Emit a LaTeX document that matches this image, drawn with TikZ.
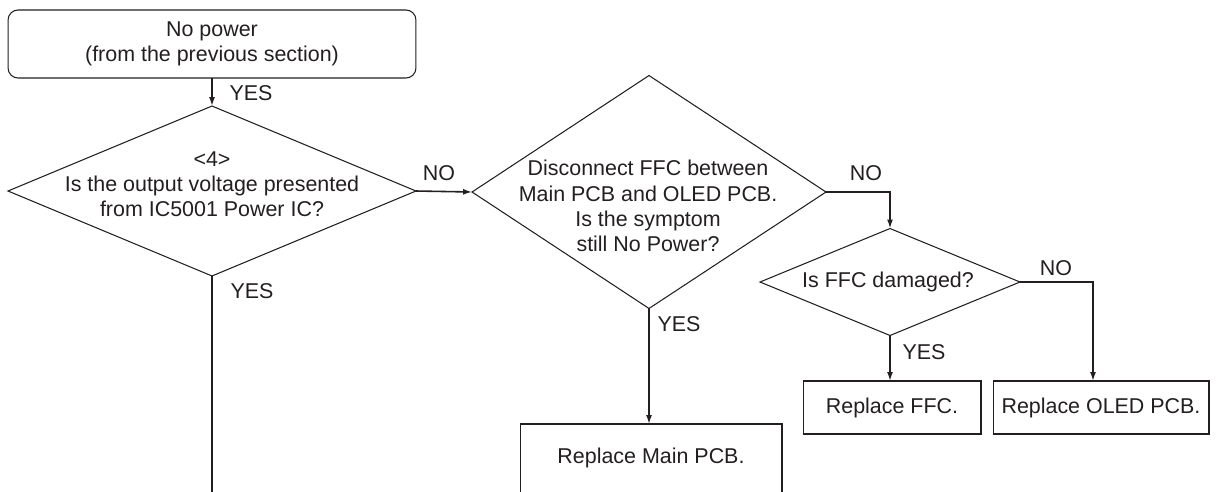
\documentclass[tikz,border=0pt]{standalone}
\usepackage{fontspec}
\setmainfont{Liberation Sans}
\usetikzlibrary{shapes.geometric,arrows.meta}
\definecolor{ink}{RGB}{35,31,32}

\begin{document}
\begin{tikzpicture}[
            x=0.02cm, y=-0.02cm,
            ink,
            font=\fontsize{12.2}{14.3}\selectfont,
            decision/.style={diamond, draw, line width=0.6pt, inner sep=0pt, outer sep=0pt},
            action/.style={rectangle, draw, line width=0.6pt, inner sep=0pt, outer sep=0pt},
            txt/.style={align=center, inner sep=0pt},
            tag/.style={inner sep=0pt},
            flow/.style={line width=0.9pt, -{Latex[length=1.8mm,width=1.2mm]}}
        ]
        \useasboundingbox (0,0) rectangle (1216,491);

        % --- Nodes ---
        \node[action, rounded corners=0.2cm, minimum width=8.16cm, minimum height=1.36cm, align=center]
            (start) at (212,44) {No power\\(from the previous section)};

        \node[decision, minimum width=8.16cm, minimum height=3.4cm] (q1) at (212,191) {};
        \node[txt] (q1text) at (212,184) {<4>\\Is the output voltage presented\\from IC5001 Power IC?};

        \node[decision, minimum width=7.08cm, minimum height=4.66cm] (q2) at (649,192) {};
        \node[txt] (q2text) at (648,206) {Disconnect FFC between\\Main PCB and OLED PCB.\\Is the symptom\\still No Power?};

        \node[decision, minimum width=5.2cm, minimum height=2.14cm] (q3) at (890,282) {};
        \node[txt] (q3text) at (888,282) {Is FFC damaged?};

        \node[action, minimum width=5.24cm, minimum height=1.52cm, text depth=0.25cm] (mainpcb) at (651,462) {Replace Main PCB.};
        \node[action, minimum width=3.56cm, minimum height=1.06cm] (ffc) at (892,407.5) {Replace FFC.};
        \node[action, minimum width=4.32cm, minimum height=1.06cm] (oled) at (1101,407.5) {Replace OLED PCB.};

        \coordinate (q1end) at (212,495);

        % --- Connectors ---
        \draw[flow] (start.south) -- (q1.north);
        \draw[line width=0.9pt] (q1.south) -- (q1end);
        \draw[flow] (q1.east) -- (q2.west);
        \draw[flow] (q2.south) -- (q2.south |- mainpcb.north);
        \draw[flow] (q2.east) -| (q3.north);
        \draw[flow] (q3.south) -- (q3.south |- ffc.north);
        \draw[flow] (q3.east) -| ([xshift=-0.16cm]oled.north);

        % --- Branch labels ---
        \node[tag] (yes1) at (251,93) {YES};
        \node[tag] (yes2) at (252,291) {YES};
        \node[tag] (no1) at (439,173) {NO};
        \node[tag] (yes3) at (679,324) {YES};
        \node[tag] (no2) at (866,173) {NO};
        \node[tag] (yes4) at (924,352) {YES};
        \node[tag] (no3) at (1056,268) {NO};
\end{tikzpicture}
\end{document}
